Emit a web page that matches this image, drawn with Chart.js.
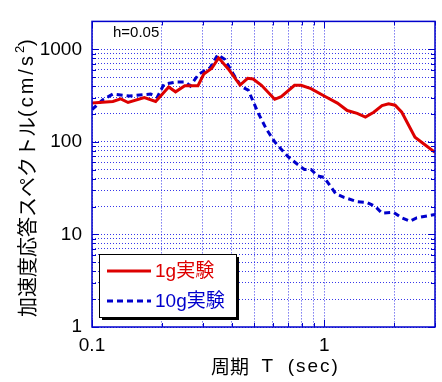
<!DOCTYPE html>
<html>
<head>
<meta charset="utf-8">
<script src="https://cdn.jsdelivr.net/npm/chart.js@4"></script>
<style>
  html, body { margin: 0; padding: 0; background: #fff; }
  #wrap { width: 442px; height: 382px; }
</style>
</head>
<body>
<div id="wrap"><canvas id="chart" width="442" height="382"></canvas></div>
<script>
// 1g実験
const periods1g = [0.1, 0.123, 0.133, 0.143, 0.168, 0.188, 0.214, 0.229, 0.251, 0.286, 0.303, 0.328, 0.351, 0.387, 0.434, 0.468, 0.494, 0.537, 0.612, 0.653, 0.745, 0.795, 0.877, 1.0, 1.14, 1.257, 1.387, 1.505, 1.634, 1.774, 1.893, 2.02, 2.158, 2.46, 2.67, 3.0];
const accel1g = [262, 273, 291, 266, 300, 273, 392, 347, 404, 404, 539, 623, 807, 609, 410, 486, 478, 408, 288, 308, 408, 408, 376, 313, 262, 218, 203, 185, 209, 246, 258, 249, 209, 112, 96, 77];

// 10g実験
const periods10g = [0.1, 0.111, 0.123, 0.145, 0.179, 0.191, 0.204, 0.229, 0.253, 0.265, 0.288, 0.323, 0.348, 0.374, 0.406, 0.441, 0.471, 0.519, 0.563, 0.612, 0.697, 0.769, 0.822, 0.877, 0.936, 1.0, 1.12, 1.217, 1.387, 1.53, 1.66, 1.774, 1.99, 2.158, 2.34, 2.5, 3.0];
const accel10g = [223, 284, 328, 313, 328, 303, 418, 442, 442, 401, 539, 634, 874, 774, 539, 392, 362, 206, 138, 100, 69.5, 56.9, 50.4, 50.4, 42.9, 41.3, 27.6, 25.1, 22.6, 22.1, 20.0, 17.0, 17.3, 15.1, 13.9, 15.1, 16.4];

// 目盛り
const xGridValues = [0.1, 0.2, 0.3, 0.4, 0.5, 0.6, 0.7, 0.8, 0.9, 1, 2, 3];
const xTickLabels = [0.1, 1];
const yGridValues = [1, 2, 3, 4, 5, 6, 7, 8, 9, 10, 20, 30, 40, 50, 60, 70, 80, 90,
  100, 200, 300, 400, 500, 600, 700, 800, 900, 1000, 2000];
const yTickLabels = [1, 10, 100, 1000];

const RED = '#dd0000';
const BLUE = '#0000cc';
const GRID_BLUE = 'rgba(20,20,230,0.85)';
const LATIN = '"Liberation Sans", Arial, sans-serif';
const JP = '"Noto Sans CJK JP", sans-serif';
const MIXED = '"Liberation Sans", "Noto Sans CJK JP", sans-serif';

const toPoints = (xs, ys) => xs.map((x, i) => ({ x: x, y: ys[i] }));
const isDecade = v => Math.abs(Math.log10(v) - Math.round(Math.log10(v))) < 1e-9;

// 文字列を部品ごとに左から描く
function drawRun(ctx, parts, x, y) {
  parts.forEach(p => {
    ctx.font = p.font;
    ctx.letterSpacing = (p.spacing || 0) + 'px';
    ctx.fillText(p.text, x, y + (p.dy || 0));
    x += ctx.measureText(p.text).width;
  });
  ctx.letterSpacing = '0px';
}

// 枠、内向き目盛り、凡例、注記、軸タイトル
const decorations = {
  id: 'decorations',
  afterDraw(chart) {
    const ctx = chart.ctx;
    const a = chart.chartArea;
    const xs = chart.scales.x, ys = chart.scales.y;
    ctx.save();

    ctx.strokeStyle = BLUE;
    ctx.lineWidth = 1;
    xGridValues.forEach(v => {
      const px = Math.round(xs.getPixelForValue(v)) + 0.5;
      const len = isDecade(v) ? 7 : 4;
      ctx.beginPath();
      ctx.moveTo(px, a.bottom); ctx.lineTo(px, a.bottom - len);
      ctx.moveTo(px, a.top); ctx.lineTo(px, a.top + len);
      ctx.stroke();
    });
    yGridValues.forEach(v => {
      const py = Math.round(ys.getPixelForValue(v)) + 0.5;
      const len = isDecade(v) ? 7 : 4;
      ctx.beginPath();
      ctx.moveTo(a.left, py); ctx.lineTo(a.left + len, py);
      ctx.moveTo(a.right, py); ctx.lineTo(a.right - len, py);
      ctx.stroke();
    });

    ctx.lineWidth = 1.5;
    ctx.strokeRect(a.left, a.top, a.right - a.left, a.bottom - a.top);

    // h=0.05
    ctx.fillStyle = '#000';
    ctx.font = '15px ' + LATIN;
    ctx.textBaseline = 'middle';
    ctx.textAlign = 'left';
    ctx.fillText('h=0.05', a.left + 21, a.top + 11);

    // 軸タイトル
    drawRun(ctx, [
      { text: '周期', font: '19px ' + JP },
      { text: '  T ', font: '19px ' + LATIN, spacing: 1 },
      { text: ' (sec)', font: '19px ' + LATIN, spacing: 2 }
    ], 211, 367);

    ctx.save();
    ctx.translate(27, 317);
    ctx.rotate(-Math.PI / 2);
    drawRun(ctx, [
      { text: '加速度応答スペクトル', font: '20px ' + JP },
      { text: '(cm/s', font: '20px ' + LATIN, spacing: 3 },
      { text: '2', font: '13px ' + LATIN, dy: -7 },
      { text: ')', font: '20px ' + LATIN, spacing: 2 }
    ], 0, 0);
    ctx.restore();

    // 凡例
    const bx = a.left + 7, by = 254, bw = 137, bh = 63;
    ctx.fillStyle = '#000';
    ctx.fillRect(bx + 3, by + 3, bw, bh);
    ctx.fillStyle = '#fff';
    ctx.fillRect(bx, by, bw, bh);
    ctx.strokeStyle = '#000';
    ctx.lineWidth = 1;
    ctx.strokeRect(bx + 0.5, by + 0.5, bw, bh);

    ctx.font = '19px ' + MIXED;
    chart.data.datasets.forEach((ds, i) => {
      const ly = by + 17 + i * 30;
      ctx.strokeStyle = ds.borderColor;
      ctx.lineWidth = ds.borderWidth;
      ctx.setLineDash(ds.borderDash || []);
      ctx.beginPath();
      ctx.moveTo(bx + 8, ly); ctx.lineTo(bx + 52, ly);
      ctx.stroke();
      ctx.setLineDash([]);
      ctx.fillStyle = ds.borderColor;
      ctx.fillText(ds.label, bx + 56, ly + 1);
    });
    ctx.restore();
  }
};

const gridOpts = { color: GRID_BLUE, lineWidth: 1, drawTicks: false };
const borderOpts = { display: false, dash: [1, 2] };

new Chart(document.getElementById('chart'), {
  type: 'line',
  data: {
    datasets: [
      {
        label: '1g実験',
        data: toPoints(periods1g, accel1g),
        borderColor: RED,
        borderWidth: 3,
        pointRadius: 0,
        tension: 0,
        fill: false
      },
      {
        label: '10g実験',
        data: toPoints(periods10g, accel10g),
        borderColor: BLUE,
        borderWidth: 3,
        borderDash: [6, 4],
        pointRadius: 0,
        tension: 0,
        fill: false
      }
    ]
  },
  options: {
    responsive: false,
    animation: false,
    layout: { padding: { top: 13, right: 4, left: 0, bottom: 0 } },
    plugins: { legend: { display: false }, tooltip: { enabled: false } },
    scales: {
      x: {
        type: 'logarithmic',
        min: 0.1,
        max: 3,
        grid: gridOpts,
        border: borderOpts,
        afterBuildTicks: s => { s.ticks = xGridValues.map(v => ({ value: v })); },
        afterFit: s => { s.height = 55; },
        ticks: {
          autoSkip: false,
          maxRotation: 0,
          padding: 7,
          color: '#000',
          font: { family: LATIN, size: 19 },
          callback: v => xTickLabels.includes(v) ? String(v) : ''
        }
      },
      y: {
        type: 'logarithmic',
        min: 1,
        max: 2000,
        grid: gridOpts,
        border: borderOpts,
        afterBuildTicks: s => { s.ticks = yGridValues.map(v => ({ value: v })); },
        afterFit: s => { s.width = 92; },
        ticks: {
          autoSkip: false,
          padding: 10,
          color: '#000',
          font: { family: LATIN, size: 19 },
          callback: v => yTickLabels.includes(v) ? String(v) : ''
        }
      }
    }
  },
  plugins: [decorations]
});
</script>
</body>
</html>
